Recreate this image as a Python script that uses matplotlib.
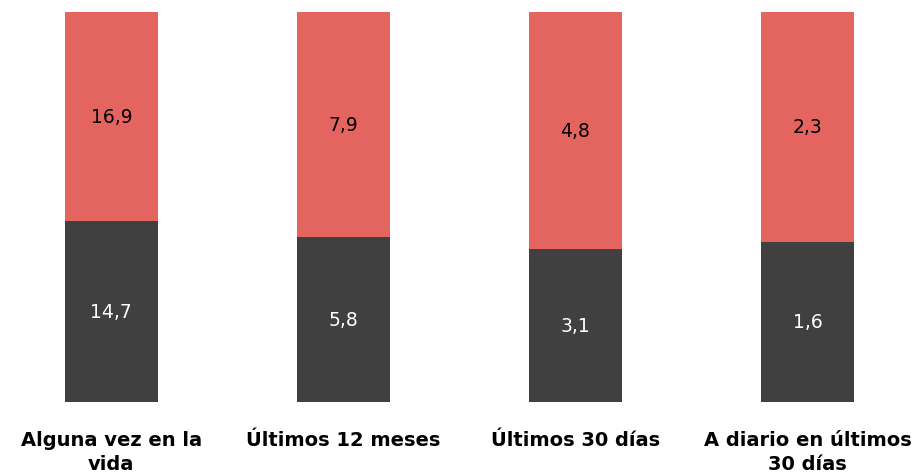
import matplotlib
matplotlib.use("Agg")
import matplotlib.pyplot as plt
import numpy as np

categories = ["Alguna vez en la\nvida", "Últimos 12 meses", "Últimos 30 días", "A diario en últimos\n30 días"]
dark_values = [14.7, 5.8, 3.1, 1.6]
red_values = [16.9, 7.9, 4.8, 2.3]
dark_labels = ["14,7", "5,8", "3,1", "1,6"]
red_labels = ["16,9", "7,9", "4,8", "2,3"]

DARK = "#404040"
RED = "#E4655F"

plt.rcParams["font.family"] = ["DejaVu Sans"]

dark = np.array(dark_values)
red = np.array(red_values)
total = dark + red
dark_share = dark / total
red_share = red / total
x = np.arange(len(categories))

fig = plt.figure(figsize=(9.2, 4.77), dpi=100)
ax = fig.add_axes([0.0, 74 / 477, 1.0, 390 / 477])

ax.bar(x, dark_share, width=0.4, color=DARK)
ax.bar(x, red_share, width=0.4, bottom=dark_share, color=RED)

for i in range(len(x)):
    ax.text(x[i], dark_share[i] / 2, dark_labels[i], ha="center", va="center",
            color="white", fontsize=13.5)
    ax.text(x[i], dark_share[i] + red_share[i] / 2, red_labels[i], ha="center",
            va="center", color="black", fontsize=13.5)

ax.set_xlim(-0.48, 3.485)
ax.set_ylim(0, 1)
ax.set_yticks([])
ax.set_xticks(x)
ax.set_xticklabels(categories, fontsize=14, fontweight="bold", linespacing=1.35)
ax.tick_params(axis="x", length=0, pad=20)
for side in ax.spines.values():
    side.set_visible(False)

fig.savefig("out.png", dpi=100)
